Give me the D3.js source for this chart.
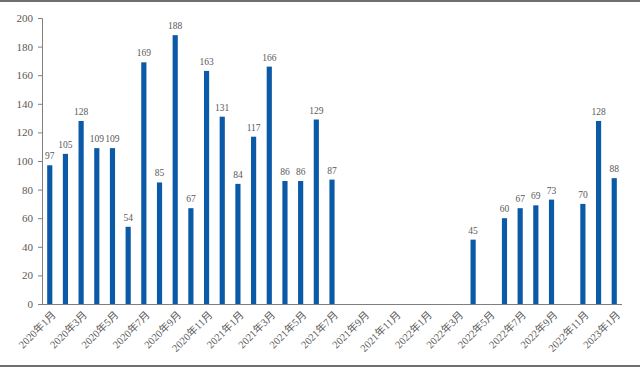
<!DOCTYPE html>
<html><head><meta charset="utf-8">
<script src="https://cdn.jsdelivr.net/npm/d3@7"></script>
<style>
html,body{margin:0;padding:0;background:#fff;}
svg{display:block;}
</style></head>
<body>
<svg id="c" width="640" height="367"></svg>
<script>
const months = [];
for (let y = 2020; y <= 2023; y++) for (let m = 1; m <= 12; m++) { if (y === 2023 && m > 1) break; months.push(y + "年" + m + "月"); }
const values = [97,105,128,109,109,54,169,85,188,67,163,131,
                84,117,166,86,86,129,87,null,null,null,null,null,
                null,null,null,45,null,60,67,69,73,null,70,128,
                88];
const yTicks = [0,20,40,60,80,100,120,140,160,180,200];
const tickLabels = months.filter((d,i)=>i%2===0);

const svg = d3.select("#c");
const W = 640, H = 367;
const m = {left:42, right:18, top:18, bottom:63};
const x = d3.scaleBand().domain(months).range([m.left, W - m.right]).paddingInner(0.67).paddingOuter(0.33);
const y = d3.scaleLinear().domain([0,200]).range([H - m.bottom, m.top]);

// frame lines
svg.append("rect").attr("x",0).attr("y",0).attr("width",W).attr("height",2).attr("fill","#6f6f6f");
svg.append("rect").attr("x",0).attr("y",365).attr("width",W).attr("height",2).attr("fill","#6f6f6f");

const font = "'Liberation Serif','Times New Roman','Noto Sans CJK SC',serif";

// y axis
const ya = svg.append("g").attr("transform",`translate(${m.left},0)`)
  .call(d3.axisLeft(y).tickValues(yTicks).tickSize(4).tickPadding(5));
ya.select(".domain").attr("stroke","#7f7f7f");
ya.selectAll(".tick line").attr("stroke","#7f7f7f");
ya.selectAll("text").attr("fill","#595959").style("font-family",font).style("font-size","11px");

// bars
const data = months.map((d,i)=>({m:d, v:values[i]})).filter(d=>d.v!==null);
svg.append("g").selectAll("rect").data(data).join("rect")
  .attr("x",d=>x(d.m)).attr("width",x.bandwidth())
  .attr("y",d=>y(d.v)).attr("height",d=>y(0)-y(d.v))
  .attr("fill","#0b5aa8");

// value labels
svg.append("g").selectAll("text").data(data).join("text")
  .attr("x",d=>x(d.m)+x.bandwidth()/2).attr("y",d=>y(d.v)-6)
  .attr("text-anchor","middle").attr("fill","#595959")
  .style("font-family",font).style("font-size","9.5px")
  .text(d=>d.v);

// x axis
const xa = svg.append("g").attr("transform",`translate(0,${y(0)})`)
  .call(d3.axisBottom(x).tickValues(tickLabels).tickSize(0).tickPadding(0).tickSizeOuter(0));
xa.select(".domain").attr("stroke","#7f7f7f").attr("d",`M${m.left},0.5H${W-m.right}`);
xa.selectAll("text")
  .attr("fill","#595959").style("font-family",font).style("font-size","10.5px")
  .attr("text-anchor","end").attr("dy","0.35em")
  .attr("transform","translate(4,9) rotate(-45)");
</script>
</body></html>
